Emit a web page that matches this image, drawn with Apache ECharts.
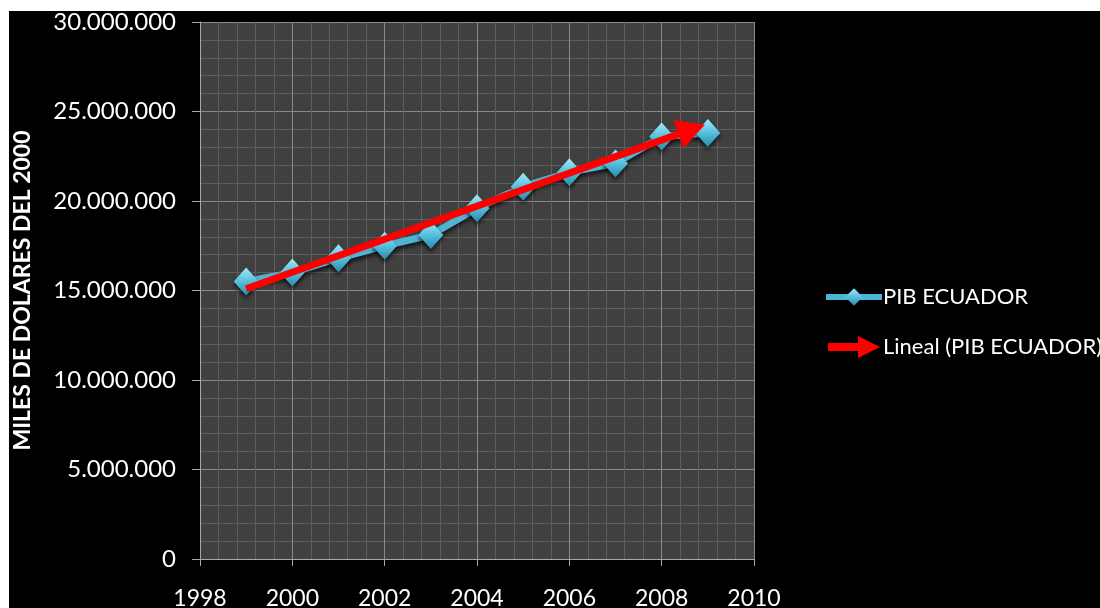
<!DOCTYPE html>
<html>
<head>
<meta charset="utf-8">
<script src="https://cdn.jsdelivr.net/npm/echarts@6/dist/echarts.min.js"></script>
<style>
html,body{margin:0;padding:0;background:#fff;}
#chart{width:1100px;height:608px;}
</style>
</head>
<body>
<div id="chart"></div>
<script>
// ---- data ----
const years = [1999, 2000, 2001, 2002, 2003, 2004, 2005, 2006, 2007, 2008, 2009];
const pib = [15500000, 16000000, 16800000, 17500000, 18100000, 19600000, 20800000, 21600000, 22100000, 23600000, 23800000];
const trendX = [1999, 2008.65];
const trendY = [15100000, 24000000];
const seriesNames = ['PIB ECUADOR', 'Lineal (PIB ECUADOR)'];
const yAxisTitle = 'MILES DE DOLARES DEL 2000';

function fmt(v) {
  return String(Math.round(v)).replace(/\B(?=(\d{3})+(?!\d))/g, '.');
}

const FONT = 'Lato, "Open Sans", sans-serif';
const chart = echarts.init(document.getElementById('chart'), null, {renderer: 'canvas'});

const diamondColor = new echarts.graphic.LinearGradient(0, 0, 0, 1, [
  {offset: 0, color: '#a2e8f8'},
  {offset: 0.5, color: '#55c0dd'},
  {offset: 1, color: '#2a8aab'}
]);

chart.setOption({
  backgroundColor: '#000',
  animation: false,
  graphic: [
    {type: 'rect', left: 0, top: 0, shape: {width: 1100, height: 11}, style: {fill: '#fff'}, silent: true},
    {type: 'rect', left: 0, top: 0, shape: {width: 9, height: 608}, style: {fill: '#fff'}, silent: true}
  ],
  grid: {
    left: 200, top: 22, width: 554, height: 537,
    outerBoundsMode: 'none', containLabel: false,
    show: true, backgroundColor: '#404040', borderWidth: 0
  },
  legend: {
    orient: 'vertical',
    left: 818, top: 281,
    itemWidth: 56, itemHeight: 22, itemGap: 28,
    textStyle: {color: '#fff', fontSize: 22, fontFamily: FONT, padding: [0, 0, 0, -4]},
    data: [
      {name: seriesNames[0], lineStyle: {width: 6, color: '#4fb3d3'}},
      {name: seriesNames[1], icon: 'path://M0,7 L30,7 L30,0 L52,11 L30,22 L30,15 L0,15 Z', itemStyle: {color: '#ff0000'}}
    ]
  },
  xAxis: {
    type: 'value', min: 1998, max: 2010, interval: 2,
    axisLine: {show: true, onZero: false, lineStyle: {color: '#a8a8a8', width: 1}},
    axisTick: {show: true, length: 7, lineStyle: {color: '#a8a8a8'}},
    axisLabel: {color: '#fff', fontSize: 23, fontFamily: FONT, margin: 28, formatter: v => String(v)},
    splitLine: {show: true, lineStyle: {color: '#8a8a8a', width: 1}},
    minorTick: {show: false, splitNumber: 5},
    minorSplitLine: {show: true, lineStyle: {color: '#5e5e5e', width: 1}}
  },
  yAxis: {
    type: 'value', min: 0, max: 30000000, interval: 5000000,
    name: yAxisTitle, nameLocation: 'middle', nameRotate: 90, nameGap: 166,
    nameTextStyle: {color: '#fff', fontSize: 23, fontWeight: 'bold', fontFamily: FONT},
    axisLine: {show: true, lineStyle: {color: '#a8a8a8', width: 1}},
    axisTick: {show: true, length: 8, lineStyle: {color: '#a8a8a8'}},
    axisLabel: {color: '#fff', fontSize: 24, fontFamily: FONT, margin: 24, formatter: fmt},
    splitLine: {show: true, lineStyle: {color: '#8a8a8a', width: 1}},
    minorTick: {show: false, splitNumber: 5},
    minorSplitLine: {show: true, lineStyle: {color: '#5e5e5e', width: 1}}
  },
  series: [
    {
      name: seriesNames[0],
      type: 'line',
      data: years.map((y, i) => [y, pib[i]]),
      symbol: 'diamond',
      symbolSize: [25, 28],
      lineStyle: {color: '#4fb3d3', width: 7, shadowBlur: 4, shadowColor: 'rgba(0,0,0,0.7)', shadowOffsetY: 3},
      itemStyle: {color: diamondColor, borderWidth: 0, shadowBlur: 4, shadowColor: 'rgba(0,0,0,0.7)', shadowOffsetY: 3},
      z: 2
    },
    {
      name: seriesNames[1],
      type: 'line',
      data: [],
      itemStyle: {color: '#ff0000'},
      lineStyle: {color: '#ff0000'},
      markLine: {
        silent: true,
        symbol: ['none', 'triangle'],
        symbolSize: [30, 28],
        label: {show: false},
        lineStyle: {color: '#ff0000', width: 7, type: 'solid'},
        emphasis: {disabled: true},
        data: [[
          {coord: [trendX[0], trendY[0]]},
          {coord: [trendX[1], trendY[1]]}
        ]]
      },
      z: 3
    }
  ]
});
</script>
</body>
</html>
